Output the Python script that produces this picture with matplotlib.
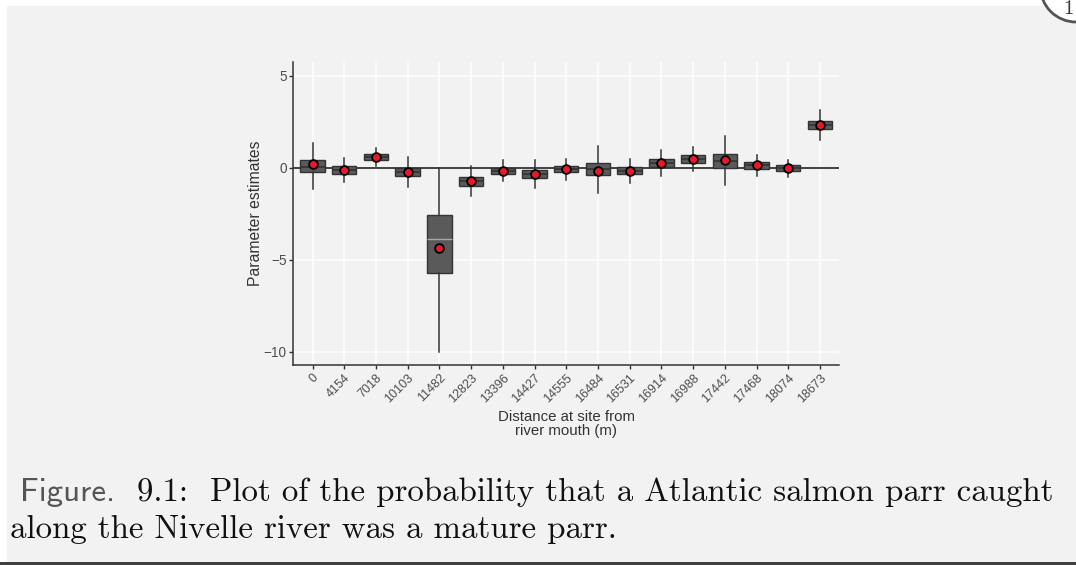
import matplotlib
matplotlib.use("Agg")
import matplotlib.pyplot as plt
from matplotlib.patches import Rectangle, Circle

# sites along the river (distance from mouth, m)
sites = ["0", "4154", "7018", "10103", "11482", "12823", "13396", "14427", "14555",
         "16484", "16531", "16914", "16988", "17442", "17468", "18074", "18673"]

# box statistics
whislo = [-1.13, -0.77, 0.10, -1.04, -10.0, -1.55, -0.73, -1.10, -0.64,
          -1.35, -0.83, -0.46, -0.17, -0.95, -0.44, -0.48, 1.53]
q1 = [-0.23, -0.32, 0.41, -0.46, -5.72, -0.99, -0.34, -0.55, -0.23,
      -0.41, -0.35, 0.03, 0.26, 0.01, -0.04, -0.17, 2.09]
med = [0.05, -0.12, 0.58, -0.22, -3.89, -0.72, -0.16, -0.35, -0.07,
       -0.05, -0.15, 0.25, 0.48, 0.35, 0.14, -0.01, 2.33]
q3 = [0.45, 0.08, 0.73, 0.01, -2.58, -0.50, 0.01, -0.14, 0.10,
      0.28, 0.04, 0.48, 0.68, 0.73, 0.30, 0.14, 2.54]
whishi = [1.37, 0.53, 1.08, 0.57, 0.0, 0.08, 0.41, 0.41, 0.50,
          1.18, 0.50, 1.00, 1.13, 1.73, 0.72, 0.41, 3.13]
means = [0.21, -0.12, 0.59, -0.24, -4.34, -0.73, -0.15, -0.35, -0.07,
         -0.19, -0.15, 0.28, 0.50, 0.42, 0.14, -0.01, 2.33]

W, H = 1076, 565
fig = plt.figure(figsize=(W / 100, H / 100), dpi=100)
fig.patch.set_facecolor("white")

# page look: grey sheet, white margins, dark rule at the bottom
fig.patches.append(Rectangle((7 / W, 3 / H), 1, 1 - 9 / H, transform=fig.transFigure,
                             facecolor="#f2f2f2", edgecolor="none", zorder=-10))
fig.patches.append(Rectangle((0, 0), 1, 3.5 / H, transform=fig.transFigure,
                             facecolor="#404040", edgecolor="none", zorder=-9))
fig.patches.append(Circle((1076, H + 13.75), 35.75, transform=None, facecolor="white",
                          edgecolor="#555555", linewidth=2, zorder=-8))
fig.text(1074 / W, 1 - 0.5 / H, "1", family="cmr10", fontsize=15, color="#333333",
         ha="right", va="top")

ax = fig.add_axes([293 / W, 200 / H, 546 / W, 303 / H])
ax.set_facecolor("#f2f2f2")

pos = list(range(1, len(sites) + 1))
stats = []
for i, s in enumerate(sites):
    stats.append(dict(label=s, whislo=whislo[i], q1=q1[i], med=med[i],
                      q3=q3[i], whishi=whishi[i], fliers=[]))

art = ax.bxp(stats, positions=pos, widths=0.77, patch_artist=True, showcaps=False,
             boxprops=dict(facecolor="#5a5a5a", edgecolor="#333333", linewidth=1),
             medianprops=dict(color="#333333", linewidth=1.2),
             whiskerprops=dict(color="#333333", linewidth=1.1))
# the big notched box shows its median as a pale gap
art["medians"][4].set_color("#a8a8a8")
art["medians"][4].set_linewidth(1.0)

ax.axhline(0, color="#222222", linewidth=1.2, zorder=1.5)
ax.plot(pos, means, "o", color="#e8192c", markeredgecolor="black",
        markersize=6.3, markeredgewidth=1.3, zorder=5)

ax.set_xlim(0.385, 17.6)
ax.set_ylim(-10.72, 5.76)
ax.set_yticks([-10, -5, 0, 5])
ax.set_xticks(pos)
ax.set_xticklabels(sites, rotation=45, ha="right", va="top", rotation_mode="anchor")

ax.set_axisbelow(True)
ax.grid(True, color="white", linewidth=1.1)
for side in ["top", "right"]:
    ax.spines[side].set_visible(False)
for side in ["left", "bottom"]:
    ax.spines[side].set_color("#333333")
    ax.spines[side].set_linewidth(1.1)

ax.tick_params(colors="#333333", labelcolor="#4d4d4d", length=3, width=1)
ax.tick_params(axis="x", labelsize=9, pad=1.8)
ax.tick_params(axis="y", labelsize=9.8, pad=1.5)
for lab in ax.get_xticklabels() + ax.get_yticklabels():
    lab.set_family("Liberation Sans")

ax.set_xlabel("Distance at site from\nriver mouth (m)", family="Liberation Sans",
              fontsize=10.8, color="#333333", linespacing=1.05, labelpad=3.5)
ax.set_ylabel("Parameter estimates", family="Liberation Sans", fontsize=11.3,
              color="#333333", labelpad=0.5)

# caption: sans "Figure." then serif text
r = fig.canvas.get_renderer()
t1 = fig.text(20 / W, 1 - 501 / H, "Figure.", family="cmss10", fontsize=23.7,
              color="#555555", va="baseline")
x1 = t1.get_window_extent(r).x1
fig.text(x1 / W, 1 - 501 / H, "  9.1:  Plot of the probability that a Atlantic salmon parr caught",
         family="cmr10", fontsize=23.7, color="#111111", va="baseline")
fig.text(10 / W, 1 - 538 / H, "along the Nivelle river was a mature parr.",
         family="cmr10", fontsize=23.7, color="#111111", va="baseline")

fig.savefig("out.png", dpi=100)
